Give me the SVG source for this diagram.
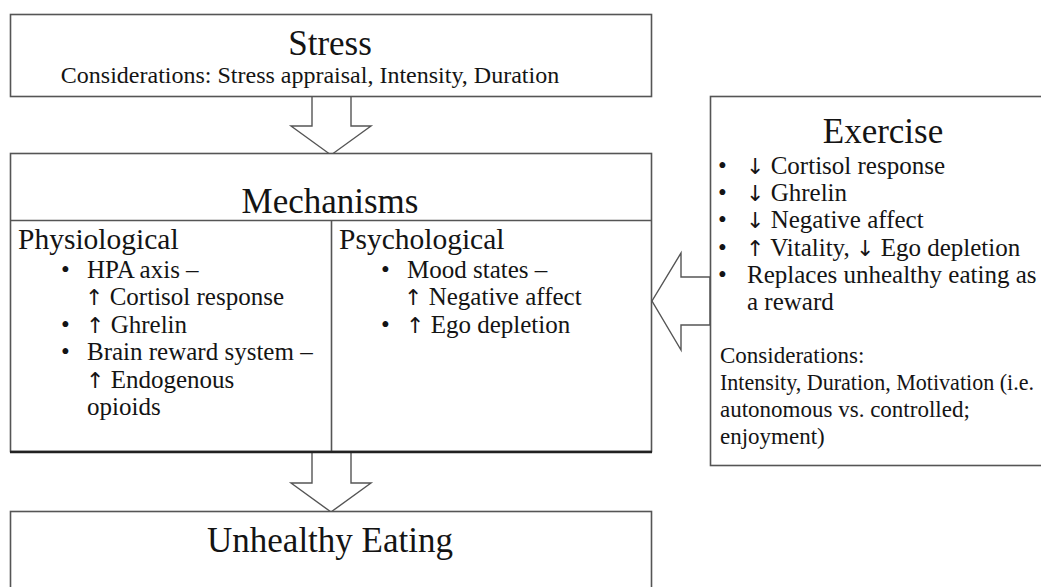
<svg xmlns="http://www.w3.org/2000/svg" width="1041" height="587" viewBox="0 0 1041 587">
<style>
.box{fill:#fff;stroke:#555;stroke-width:1.6}
.ln{stroke:#555;stroke-width:1.6;fill:none}
.arr{fill:#fff;stroke:#555;stroke-width:1.4;stroke-linejoin:miter}
text{font-family:"Liberation Serif","DejaVu Serif",serif;fill:#141414}
.t{font-size:35px;text-anchor:middle}
.h{font-size:29.5px}
.b{font-size:25px}
.c{font-size:23px}
.s{font-size:24px}
.ar{font-family:"DejaVu Sans",sans-serif;font-size:22px}
</style>
<rect width="1041" height="587" fill="#fff"/>
<g id="connectors">
<polygon class="arr" points="312,96 351,96 351,126 371,126 331,155 291,126 312,126"/>
<polygon class="arr" points="312,452 351,452 351,483 371,483 331,512 291,483 312,483"/>
<polygon class="arr" points="710,277 681,277 681,253 652,301 681,350 681,325 710,325"/>
</g>
<g id="stress">
<rect class="box" x="10.5" y="14.5" width="641" height="82"/>
<text class="t" x="330" y="55">Stress</text>
<text class="s" x="310" y="83" text-anchor="middle">Considerations: Stress appraisal, Intensity, Duration</text>
</g>
<g id="mechanisms">
<rect class="box" x="10.5" y="153.5" width="641" height="298"/>
<line class="ln" x1="10.5" y1="220.5" x2="651.5" y2="220.5"/>
<line class="ln" x1="331.5" y1="220.5" x2="331.5" y2="451.5"/>
<line x1="10" y1="452" x2="652" y2="452" stroke="#222" stroke-width="2.4"/>
<text class="t" x="330" y="213">Mechanisms</text>
<g id="physiological">
<text class="h" x="18" y="249">Physiological</text>
<text class="b" x="61" y="278">•</text><text class="b" x="87" y="278">HPA axis –</text>
<text class="b" x="85" y="305"><tspan class="ar">↑</tspan> Cortisol response</text>
<text class="b" x="61" y="333">•</text><text class="b" x="86" y="333"><tspan class="ar">↑</tspan> Ghrelin</text>
<text class="b" x="61" y="360">•</text><text class="b" x="87" y="360">Brain reward system –</text>
<text class="b" x="86" y="388"><tspan class="ar">↑</tspan> Endogenous</text>
<text class="b" x="87" y="415">opioids</text>
</g>
<g id="psychological">
<text class="h" x="339" y="249">Psychological</text>
<text class="b" x="381" y="278">•</text><text class="b" x="407" y="278">Mood states –</text>
<text class="b" x="404" y="305"><tspan class="ar">↑</tspan> Negative affect</text>
<text class="b" x="381" y="333">•</text><text class="b" x="406" y="333"><tspan class="ar">↑</tspan> Ego depletion</text>
</g>
</g>
<g id="exercise">
<rect class="box" x="710.5" y="96.5" width="340" height="369"/>
<text class="t" x="883" y="143">Exercise</text>
<text class="b" x="718" y="174">•</text><text class="b" x="746" y="174"><tspan class="ar">↓</tspan> Cortisol response</text>
<text class="b" x="718" y="201">•</text><text class="b" x="746" y="201"><tspan class="ar">↓</tspan> Ghrelin</text>
<text class="b" x="718" y="228">•</text><text class="b" x="746" y="228"><tspan class="ar">↓</tspan> Negative affect</text>
<text class="b" x="718" y="256">•</text><text class="b" x="746" y="256"><tspan class="ar">↑</tspan> Vitality, <tspan class="ar">↓</tspan> Ego depletion</text>
<text class="b" x="718" y="283">•</text><text class="b" x="747" y="283">Replaces unhealthy eating as</text>
<text class="b" x="747" y="310">a reward</text>
<text class="c" x="720" y="363">Considerations:</text>
<text class="c" x="720" y="390" textLength="314" lengthAdjust="spacingAndGlyphs">Intensity, Duration, Motivation (i.e.</text>
<text class="c" x="720" y="417">autonomous vs. controlled;</text>
<text class="c" x="720" y="444">enjoyment)</text>
</g>
<g id="unhealthy-eating">
<rect class="box" x="10.5" y="511.5" width="641" height="90"/>
<text class="t" x="330" y="552">Unhealthy Eating</text>
</g>
</svg>
